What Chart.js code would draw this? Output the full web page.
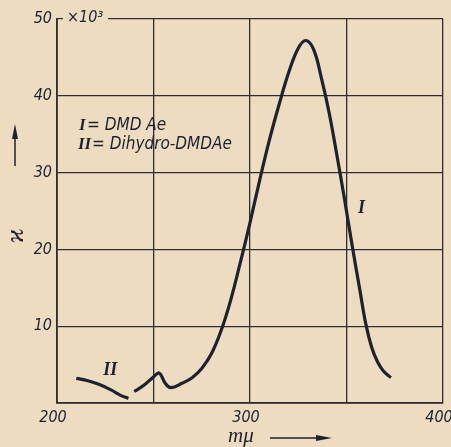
<!DOCTYPE html>
<html>
<head>
<meta charset="utf-8">
<script src="https://cdn.jsdelivr.net/npm/chart.js@4.4.1/dist/chart.umd.min.js"></script>
<style>
  html, body { margin: 0; padding: 0; background: #eedcc1; }
  #wrap { width: 451px; height: 447px; position: relative; }
</style>
</head>
<body>
<div id="wrap"><canvas id="spectrum"></canvas></div>
<script>
// curve I (DMDAe): wavelength in m\u03bc, extinction x 10^3
const waveI = [240, 245, 250, 253, 256, 259, 265, 270, 275, 280, 285, 290, 295, 300, 305, 310, 315, 320, 325, 329, 333, 337, 341, 345, 349, 353, 357, 360, 363, 366, 369, 373];
const valuesI = [1.5, 2.3, 3.4, 3.9, 2.6, 2.0, 2.6, 3.3, 4.5, 6.4, 9.4, 13.4, 18.3, 23.5, 29, 34.2, 38.8, 43, 46.2, 47.2, 46, 42.3, 37.8, 32.3, 26.5, 20.4, 14.6, 10.3, 7.3, 5.4, 4.2, 3.3];
// curve II (Dihydro-DMDAe)
const waveII = [210, 216, 222, 228, 233, 237];
const valuesII = [3.2, 2.9, 2.4, 1.7, 1.0, 0.6];

const xLabels = [200, 300, 400];
const yLabels = [10, 20, 30, 40, 50];

const paper = '#eedcc1';
const ink = '#1c2230';
const sans = '"DejaVu Sans Condensed", "DejaVu Sans", sans-serif';
const serif = '"Liberation Serif", "DejaVu Serif", serif';

function toPoints(xs, ys) {
    return xs.map((x, i) => ({x: x, y: ys[i]}));
}

const paperPlugin = {
    id: 'paper',
    beforeDraw(chart) {
        const ctx = chart.ctx;
        ctx.save();
        ctx.fillStyle = paper;
        ctx.fillRect(0, 0, chart.width, chart.height);
        ctx.restore();
    },
    afterDraw(chart) {
        const ctx = chart.ctx;
        const xs = chart.scales.x, ys = chart.scales.y;
        ctx.save();
        // gap in the top border for the factor
        ctx.fillStyle = paper;
        ctx.fillRect(63, ys.top - 4, 45, 8);
        ctx.fillStyle = ink;
        ctx.font = 'italic 16px ' + sans;
        ctx.textBaseline = 'middle';
        ctx.fillText('\u00d710\u00b3', 67, ys.top - 1);

        // key
        ctx.font = 'italic bold 17px ' + serif;
        ctx.fillText('I', 79, 126);
        ctx.fillText('II', 78, 145);
        ctx.font = 'italic 17px ' + sans;
        ctx.fillText('= DMD Ae', 87, 126);
        ctx.fillText('= Dihydro-DMDAe', 92, 145);

        // curve labels
        ctx.font = 'italic bold 18px ' + serif;
        ctx.fillText('I', xs.getPixelForValue(356), ys.getPixelForValue(25.4));
        ctx.fillText('II', xs.getPixelForValue(224), ys.getPixelForValue(4.2));

        // x title with arrow
        ctx.font = 'italic 21px ' + serif;
        ctx.fillText('m\u03bc', 228, 436);
        ctx.lineWidth = 1.5;
        ctx.strokeStyle = ink;
        ctx.beginPath();
        ctx.moveTo(270, 438);
        ctx.lineTo(322, 438);
        ctx.stroke();
        ctx.beginPath();
        ctx.moveTo(332, 438);
        ctx.lineTo(316, 435);
        ctx.lineTo(316, 441);
        ctx.closePath();
        ctx.fill();

        // y title with arrow
        ctx.beginPath();
        ctx.moveTo(15, 166);
        ctx.lineTo(15, 135);
        ctx.stroke();
        ctx.beginPath();
        ctx.moveTo(15, 124);
        ctx.lineTo(12, 139);
        ctx.lineTo(18, 139);
        ctx.closePath();
        ctx.fill();
        ctx.translate(16, 236);
        ctx.rotate(-Math.PI / 2);
        ctx.textAlign = 'center';
        ctx.font = 'italic 26px ' + serif;
        ctx.fillText('\u03f0', 0, 0);
        ctx.restore();
    }
};

const data = {
    datasets: [
        {
            label: 'I = DMD Ae',
            data: toPoints(waveI, valuesI),
            borderColor: ink,
            borderWidth: 3.2,
            pointRadius: 0,
            tension: 0.4,
            fill: false
        },
        {
            label: 'II = Dihydro-DMDAe',
            data: toPoints(waveII, valuesII),
            borderColor: ink,
            borderWidth: 3.2,
            pointRadius: 0,
            tension: 0.4,
            fill: false
        }
    ]
};

const options = {
    responsive: true,
    maintainAspectRatio: false,
    animation: false,
    layout: {padding: {top: 19, right: 8, left: 0, bottom: 0}},
    plugins: {legend: {display: false}, tooltip: {enabled: false}},
    scales: {
        x: {
            type: 'linear',
            min: 200,
            max: 400,
            ticks: {
                stepSize: 50,
                padding: 5,
                labelOffset: -4,
                color: ink,
                font: {family: sans, size: 16, style: 'italic'},
                callback: (v) => xLabels.includes(v) ? String(v) : ''
            },
            grid: {color: '#2e2e30', lineWidth: 1.3, drawTicks: false},
            border: {color: '#2e2e30', width: 1.8},
            afterFit(scale) {
                scale.height = 44;
                scale.paddingLeft = 0;
                scale.paddingRight = 0;
            }
        },
        y: {
            min: 0,
            max: 50,
            ticks: {
                stepSize: 10,
                padding: 5,
                color: ink,
                font: {family: sans, size: 16, style: 'italic'},
                callback: (v) => yLabels.includes(v) ? String(v) : ''
            },
            grid: {color: '#2e2e30', lineWidth: 1.3, drawTicks: false},
            border: {color: '#2e2e30', width: 1.8},
            afterFit(scale) {
                scale.width = 57;
                scale.paddingTop = 0;
                scale.paddingBottom = 0;
            }
        }
    }
};

new Chart('spectrum', {type: 'line', data: data, options: options, plugins: [paperPlugin]});
</script>
</body>
</html>
